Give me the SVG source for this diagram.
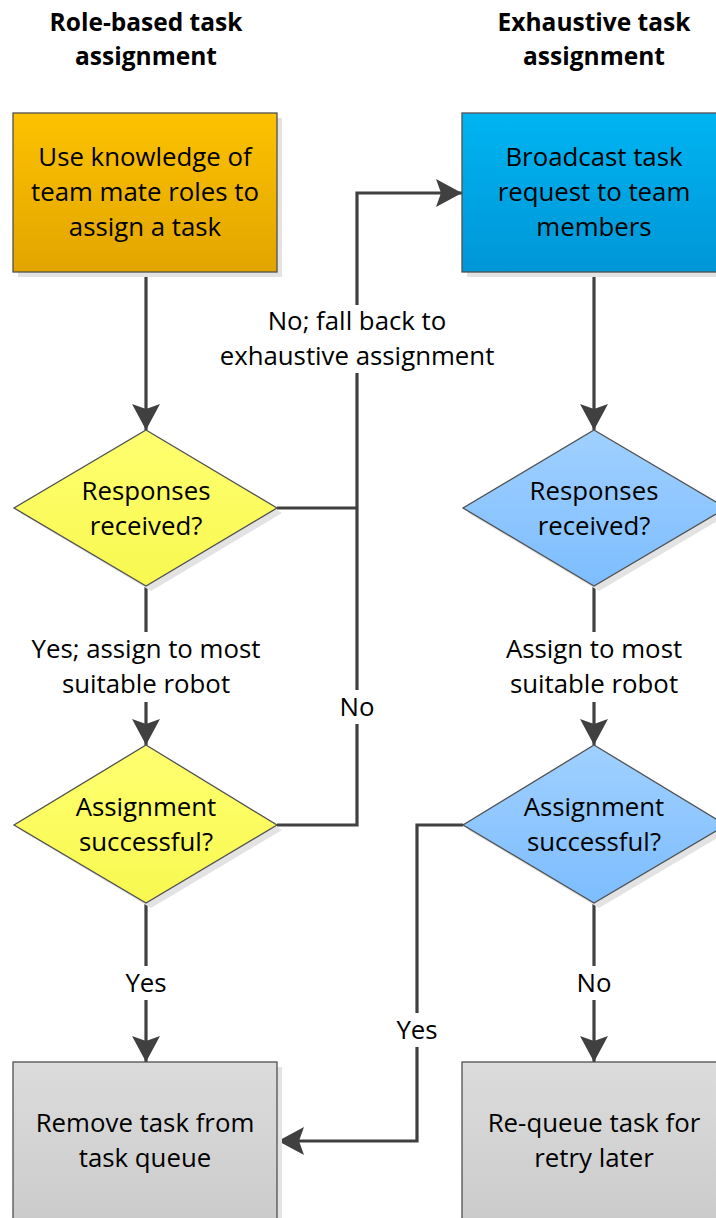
<svg xmlns="http://www.w3.org/2000/svg" width="716" height="1218" viewBox="0 0 716 1218">
  <defs>
    <linearGradient id="gOrange" x1="0" y1="0" x2="0" y2="1">
      <stop offset="0" stop-color="#FCC200"/>
      <stop offset="1" stop-color="#E2A500"/>
    </linearGradient>
    <linearGradient id="gBlue" x1="0" y1="0" x2="0" y2="1">
      <stop offset="0" stop-color="#00B4F2"/>
      <stop offset="1" stop-color="#0096D6"/>
    </linearGradient>
    <linearGradient id="gYellow" x1="0" y1="0" x2="0" y2="1">
      <stop offset="0" stop-color="#FFFF70"/>
      <stop offset="1" stop-color="#F8F850"/>
    </linearGradient>
    <linearGradient id="gSky" x1="0" y1="0" x2="0" y2="1">
      <stop offset="0" stop-color="#A0D0FF"/>
      <stop offset="1" stop-color="#7DBDFF"/>
    </linearGradient>
    <linearGradient id="gGray" x1="0" y1="0" x2="0" y2="1">
      <stop offset="0" stop-color="#DCDCDC"/>
      <stop offset="1" stop-color="#CBCBCB"/>
    </linearGradient>
    <marker id="arrow" viewBox="0 0 26 28" refX="26" refY="14" markerWidth="26" markerHeight="28" markerUnits="userSpaceOnUse" orient="auto">
      <path d="M0,0 L26,14 L0,28 L5,14 Z" fill="#404040"/>
    </marker>
  </defs>
  <style>
    .shape { stroke: #505050; stroke-width: 1.3; }
    .shadow { fill: #E3E3E3; }
    .txt { font-family: "Open Sans", Lato, sans-serif; font-size: 25.8px; fill: #000; text-anchor: middle; }
    .hdr { font-family: "Open Sans", Lato, sans-serif; font-size: 24.5px; font-weight: bold; fill: #000; text-anchor: middle; }
    .conn { fill: none; stroke: #404040; stroke-width: 3.2; }
    .lblbg { fill: #FFFFFF; }
  </style>

  <!-- column headings -->
  <g id="header-role">
    <text class="hdr" x="146" y="31">Role-based task</text>
    <text class="hdr" x="146" y="65">assignment</text>
  </g>
  <g id="header-exhaustive">
    <text class="hdr" x="594" y="31">Exhaustive task</text>
    <text class="hdr" x="594" y="65">assignment</text>
  </g>

  <!-- connectors -->
  <g id="connectors">
    <path class="conn" d="M146,272 V430" marker-end="url(#arrow)"/>
    <path class="conn" d="M146,586 V745" marker-end="url(#arrow)"/>
    <path class="conn" d="M146,903 V1062" marker-end="url(#arrow)"/>
    <path class="conn" d="M277,508 H357"/>
    <path class="conn" d="M277,825 H357 V193 H462" marker-end="url(#arrow)"/>
    <path class="conn" d="M594,272 V430" marker-end="url(#arrow)"/>
    <path class="conn" d="M594,586 V745" marker-end="url(#arrow)"/>
    <path class="conn" d="M594,903 V1062" marker-end="url(#arrow)"/>
    <path class="conn" d="M463,825 H417 V1141 H278" marker-end="url(#arrow)"/>
  </g>

  <!-- connector labels -->
  <g id="label-fallback">
    <rect class="lblbg" x="212" y="305" width="290" height="68"/>
    <text class="txt" x="357" y="330">No; fall back to</text>
    <text class="txt" x="357" y="365">exhaustive assignment</text>
  </g>
  <g id="label-yes-assign">
    <rect class="lblbg" x="22" y="632" width="248" height="70"/>
    <text class="txt" x="146" y="658">Yes; assign to most</text>
    <text class="txt" x="146" y="693">suitable robot</text>
  </g>
  <g id="label-no-left">
    <rect class="lblbg" x="332" y="690" width="50" height="34"/>
    <text class="txt" x="357" y="716">No</text>
  </g>
  <g id="label-yes-left">
    <rect class="lblbg" x="118" y="966" width="56" height="34"/>
    <text class="txt" x="146" y="992">Yes</text>
  </g>
  <g id="label-assign-right">
    <rect class="lblbg" x="496" y="632" width="196" height="70"/>
    <text class="txt" x="594" y="658">Assign to most</text>
    <text class="txt" x="594" y="693">suitable robot</text>
  </g>
  <g id="label-yes-right">
    <rect class="lblbg" x="389" y="1013" width="56" height="34"/>
    <text class="txt" x="417" y="1039">Yes</text>
  </g>
  <g id="label-no-right">
    <rect class="lblbg" x="569" y="966" width="50" height="34"/>
    <text class="txt" x="594" y="992">No</text>
  </g>

  <!-- left column -->
  <g id="node-role-assign">
    <rect class="shadow" x="18" y="118" width="264" height="159"/>
    <rect class="shape" x="13" y="113" width="264" height="159" fill="url(#gOrange)"/>
    <text class="txt" x="145" y="166">Use knowledge of</text>
    <text class="txt" x="145" y="201">team mate roles to</text>
    <text class="txt" x="145" y="236">assign a task</text>
  </g>
  <g id="node-role-responses">
    <polygon class="shadow" points="151,435 282,513 151,591 20,513"/>
    <polygon class="shape" points="146,430 277,508 146,586 14,508" fill="url(#gYellow)"/>
    <text class="txt" x="146" y="500">Responses</text>
    <text class="txt" x="146" y="535">received?</text>
  </g>
  <g id="node-role-success">
    <polygon class="shadow" points="151,750 282,830 151,908 20,830"/>
    <polygon class="shape" points="146,745 277,825 146,903 14,825" fill="url(#gYellow)"/>
    <text class="txt" x="146" y="816">Assignment</text>
    <text class="txt" x="146" y="851">successful?</text>
  </g>
  <g id="node-remove">
    <rect class="shadow" x="18" y="1067" width="264" height="160"/>
    <rect class="shape" x="13" y="1062" width="264" height="160" fill="url(#gGray)"/>
    <text class="txt" x="145" y="1132">Remove task from</text>
    <text class="txt" x="145" y="1167">task queue</text>
  </g>

  <!-- right column -->
  <g id="node-broadcast">
    <rect class="shadow" x="467" y="118" width="264" height="159"/>
    <rect class="shape" x="462" y="113" width="264" height="159" fill="url(#gBlue)"/>
    <text class="txt" x="594" y="166">Broadcast task</text>
    <text class="txt" x="594" y="201">request to team</text>
    <text class="txt" x="594" y="236">members</text>
  </g>
  <g id="node-ex-responses">
    <polygon class="shadow" points="599,435 731,513 599,591 468,513"/>
    <polygon class="shape" points="594,430 726,508 594,586 463,508" fill="url(#gSky)"/>
    <text class="txt" x="594" y="500">Responses</text>
    <text class="txt" x="594" y="535">received?</text>
  </g>
  <g id="node-ex-success">
    <polygon class="shadow" points="599,750 731,830 599,908 468,830"/>
    <polygon class="shape" points="594,745 726,825 594,903 463,825" fill="url(#gSky)"/>
    <text class="txt" x="594" y="816">Assignment</text>
    <text class="txt" x="594" y="851">successful?</text>
  </g>
  <g id="node-requeue">
    <rect class="shadow" x="467" y="1067" width="264" height="160"/>
    <rect class="shape" x="462" y="1062" width="264" height="160" fill="url(#gGray)"/>
    <text class="txt" x="594" y="1132">Re-queue task for</text>
    <text class="txt" x="594" y="1167">retry later</text>
  </g>
</svg>
